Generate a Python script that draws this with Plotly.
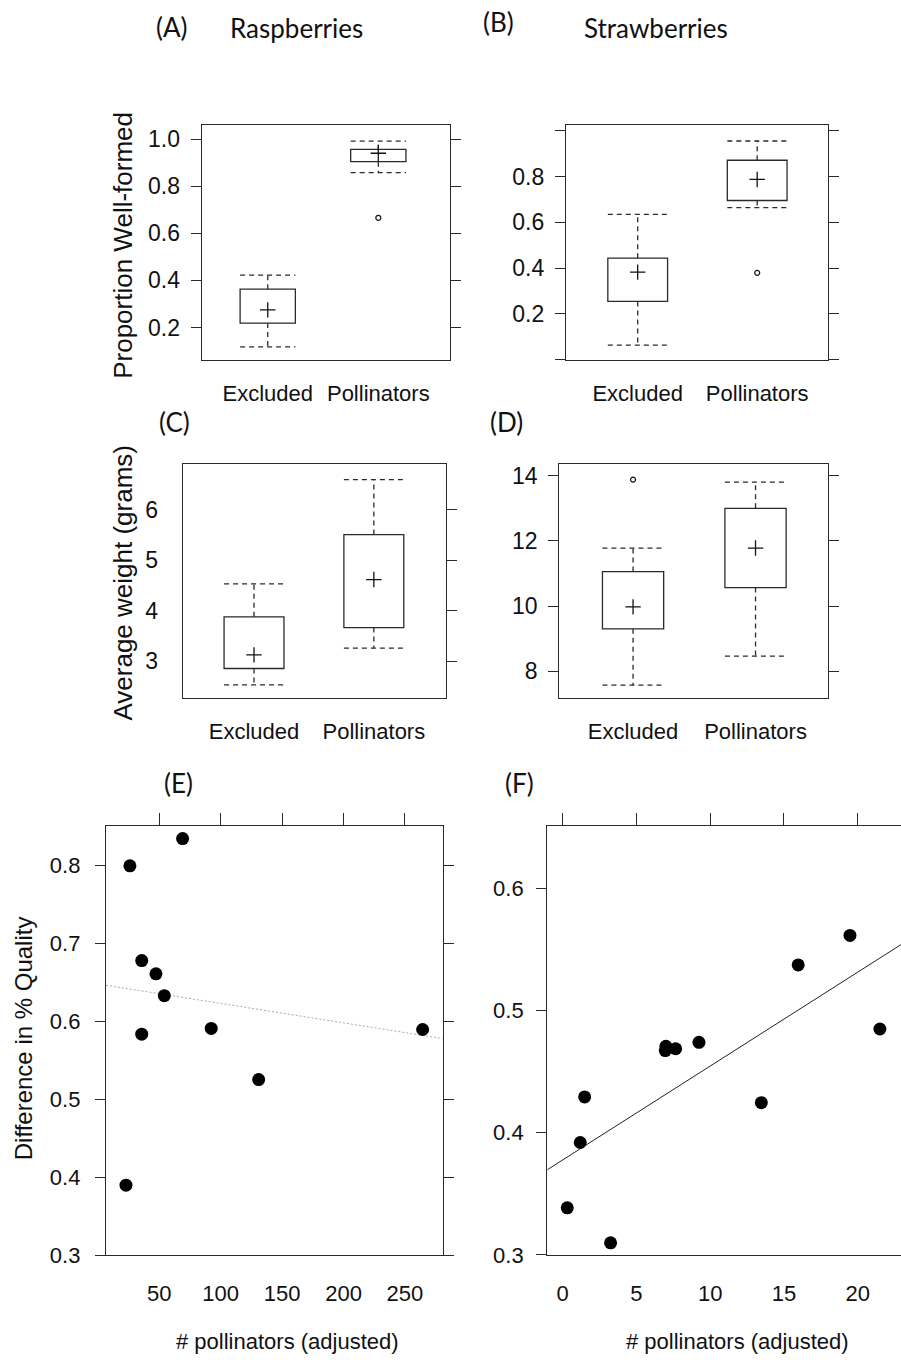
import numpy as np
import plotly.graph_objects as go

# ---------------- data ----------------
categories = ["Excluded", "Pollinators"]

# (A) Raspberries - proportion well-formed
rasp_prop_q1 = [0.219, 0.904]
rasp_prop_q3 = [0.363, 0.956]
rasp_prop_mean = [0.275, 0.940]
rasp_prop_wlo = [0.118, 0.858]
rasp_prop_whi = [0.4225, 0.9915]
rasp_prop_out_cat = ["Pollinators"]
rasp_prop_out_val = [0.666]

# (B) Strawberries - proportion well-formed
straw_prop_q1 = [0.254, 0.695]
straw_prop_q3 = [0.443, 0.871]
straw_prop_mean = [0.382, 0.787]
straw_prop_wlo = [0.063, 0.664]
straw_prop_whi = [0.634, 0.955]
straw_prop_out_cat = ["Pollinators"]
straw_prop_out_val = [0.379]

# (C) Raspberries - average weight (grams)
rasp_wt_q1 = [2.855, 3.666]
rasp_wt_q3 = [3.878, 5.506]
rasp_wt_mean = [3.126, 4.616]
rasp_wt_wlo = [2.533, 3.257]
rasp_wt_whi = [4.53, 6.593]
rasp_wt_out_cat = []
rasp_wt_out_val = []

# (D) Strawberries - average weight (grams)
straw_wt_q1 = [9.30, 10.566]
straw_wt_q3 = [11.056, 13.0]
straw_wt_mean = [9.974, 11.78]
straw_wt_wlo = [7.57, 8.46]
straw_wt_whi = [11.78, 13.8]
straw_wt_out_cat = ["Excluded"]
straw_wt_out_val = [13.88]

# (E) Raspberries - difference in % quality vs # pollinators
rasp_poll_x = [26.1, 69.0, 35.7, 47.3, 54.1, 35.7, 92.3, 130.9, 264.4, 22.9]
rasp_diff_y = [0.799, 0.834, 0.6775, 0.6606, 0.6326, 0.5832, 0.5906, 0.525, 0.5892, 0.3897]

# (F) Strawberries - difference in % quality vs # pollinators
straw_poll_x = [0.31, 1.19, 1.49, 3.25, 6.96, 7.0, 7.66, 9.24, 13.47, 15.97, 19.48, 21.51]
straw_diff_y = [0.3385, 0.392, 0.4293, 0.3099, 0.4672, 0.4707, 0.4687, 0.474, 0.4246,
                0.5373, 0.5615, 0.4849]

# tick values
rasp_prop_ticks = [0.2, 0.4, 0.6, 0.8, 1.0]
straw_prop_ticks = [0.0, 0.2, 0.4, 0.6, 0.8, 1.0]
rasp_wt_ticks = [3, 4, 5, 6]
straw_wt_ticks = [8, 10, 12, 14]
rasp_poll_ticks = [50, 100, 150, 200, 250]
rasp_diff_ticks = [0.3, 0.4, 0.5, 0.6, 0.7, 0.8]
straw_poll_ticks = [0, 5, 10, 15, 20]
straw_diff_ticks = [0.3, 0.4, 0.5, 0.6]

# ---------------- style ----------------
LINE_C = "#2a2a2a"
BOX_W = 0.5
TICK_FONT = dict(family="Liberation Sans, Arial, sans-serif", size=23, color="#111")
TICK_FONT_SM = dict(family="Liberation Sans, Arial, sans-serif", size=22, color="#111")
CAT_FONT = dict(family="Liberation Sans, Arial, sans-serif", size=22, color="#111")
AX_TITLE_FONT = dict(family="Liberation Sans, Arial, sans-serif", size=26, color="#111")
PANEL_FONT = dict(family="Lato, Open Sans, sans-serif", size=26, color="#111")

E_XRANGE = [6.6, 280.7]
F_XRANGE = [-1.044, 22.94]
C_YRANGE = [2.268, 6.904]
E_YRANGE = [0.2995, 0.850]
F_YRANGE = [0.2995, 0.651]

fig = go.Figure()


def add_box_panel(xa, ya, q1, q3, mean, wlo, whi, out_cat, out_val):
    pos = np.arange(1, len(categories) + 1, dtype=float)
    q1 = np.asarray(q1, dtype=float)
    q3 = np.asarray(q3, dtype=float)
    fig.add_trace(go.Bar(
        x=pos, y=q3 - q1, base=q1, width=BOX_W,
        marker=dict(color="white", line=dict(color=LINE_C, width=1.3)),
        xaxis=xa, yaxis=ya, hoverinfo="skip"))
    hw = BOX_W / 2
    wx, wy = [], []
    for p, a, b, lo, hi in zip(pos, q1, q3, wlo, whi):
        wx += [p, p, None, p, p, None, p - hw, p + hw, None, p - hw, p + hw, None]
        wy += [b, hi, None, a, lo, None, hi, hi, None, lo, lo, None]
    fig.add_trace(go.Scatter(
        x=wx, y=wy, mode="lines",
        line=dict(color=LINE_C, width=1.3, dash="5px,4px"),
        xaxis=xa, yaxis=ya, hoverinfo="skip"))
    fig.add_trace(go.Scatter(
        x=pos, y=mean, mode="markers",
        marker=dict(symbol="cross-thin", size=11, line=dict(color="#111", width=1.3)),
        xaxis=xa, yaxis=ya))
    if out_cat:
        ox = [categories.index(c) + 1 for c in out_cat]
        fig.add_trace(go.Scatter(
            x=ox, y=out_val, mode="markers",
            marker=dict(symbol="circle-open", size=5, color="#111", line=dict(width=1.2)),
            xaxis=xa, yaxis=ya))


add_box_panel("x", "y", rasp_prop_q1, rasp_prop_q3, rasp_prop_mean, rasp_prop_wlo,
              rasp_prop_whi, rasp_prop_out_cat, rasp_prop_out_val)
add_box_panel("x2", "y2", straw_prop_q1, straw_prop_q3, straw_prop_mean, straw_prop_wlo,
              straw_prop_whi, straw_prop_out_cat, straw_prop_out_val)
add_box_panel("x3", "y3", rasp_wt_q1, rasp_wt_q3, rasp_wt_mean, rasp_wt_wlo,
              rasp_wt_whi, rasp_wt_out_cat, rasp_wt_out_val)
add_box_panel("x4", "y4", straw_wt_q1, straw_wt_q3, straw_wt_mean, straw_wt_wlo,
              straw_wt_whi, straw_wt_out_cat, straw_wt_out_val)

# (E) scatter + least-squares line
e_coef = np.polyfit(rasp_poll_x, rasp_diff_y, 1)
e_lx = np.array(E_XRANGE)
fig.add_trace(go.Scatter(x=e_lx, y=np.polyval(e_coef, e_lx), mode="lines",
                         line=dict(color="#aaaaaa", width=1, dash="2px,2px"),
                         xaxis="x5", yaxis="y5", hoverinfo="skip"))
fig.add_trace(go.Scatter(x=rasp_poll_x, y=rasp_diff_y, mode="markers",
                         marker=dict(color="black", size=13),
                         xaxis="x5", yaxis="y5"))

# (F) scatter + least-squares line
f_coef = np.polyfit(straw_poll_x, straw_diff_y, 1)
f_lx = np.array(F_XRANGE)
fig.add_trace(go.Scatter(x=f_lx, y=np.polyval(f_coef, f_lx), mode="lines",
                         line=dict(color="#222", width=1),
                         xaxis="x6", yaxis="y6", hoverinfo="skip"))
fig.add_trace(go.Scatter(x=straw_poll_x, y=straw_diff_y, mode="markers",
                         marker=dict(color="black", size=13),
                         xaxis="x6", yaxis="y6"))

# empty traces so the tick-only overlay axes (right of C, top of E and F) get drawn
for xa, ya in [("x3", "y7"), ("x7", "y5"), ("x8", "y6")]:
    fig.add_trace(go.Scatter(x=[], y=[], mode="markers", xaxis=xa, yaxis=ya,
                             hoverinfo="skip"))


def cat_xaxis(domain, rng, anchor):
    return dict(domain=domain, range=rng, anchor=anchor, tickvals=[1, 2], ticktext=categories,
                ticks="", tickangle=0, showline=True, mirror=True, linecolor=LINE_C,
                linewidth=1.3, showgrid=False, zeroline=False, tickfont=CAT_FONT,
                ticklabelstandoff=13, fixedrange=True)


def val_yaxis(domain, rng, anchor, tickvals, ticktext, left_ticks=True, mirror="ticks",
              font=TICK_FONT, standoff=6):
    return dict(domain=domain, range=rng, anchor=anchor, tickvals=tickvals, ticktext=ticktext,
                ticks="outside" if left_ticks else "", ticklen=10, tickwidth=1.3,
                tickcolor=LINE_C, showline=True, mirror=mirror, linecolor=LINE_C,
                linewidth=1.3, showgrid=False, zeroline=False, tickfont=font,
                ticklabelstandoff=standoff, fixedrange=True)


def tick_only(overlay, anchor, side, rng, tickvals, ticklen):
    return dict(overlaying=overlay, anchor=anchor, side=side, range=rng, tickvals=tickvals,
                showticklabels=False, ticks="outside", ticklen=ticklen, tickwidth=1.3,
                tickcolor=LINE_C, showline=False, showgrid=False, zeroline=False,
                fixedrange=True)


def fmt1(vals):
    return [f"{v:.1f}" for v in vals]


straw_prop_text = [f"{v:.1f}" if 0 < v < 1 else "" for v in straw_prop_ticks]

fig.update_layout(
    width=901, height=1372,
    margin=dict(l=0, r=0, t=0, b=0),
    paper_bgcolor="white", plot_bgcolor="white",
    showlegend=False,
    xaxis=cat_xaxis([0.2239, 0.4994], [0.403, 2.648], "y"),
    yaxis=val_yaxis([0.7358, 0.9086], [0.062, 1.059], "x", rasp_prop_ticks, fmt1(rasp_prop_ticks)),
    xaxis2=cat_xaxis([0.6282, 0.9193], [0.40, 2.595], "y2"),
    yaxis2=val_yaxis([0.7358, 0.9086], [-0.002, 1.024], "x2", straw_prop_ticks, straw_prop_text),
    xaxis3=cat_xaxis([0.2028, 0.4947], [0.405, 2.60], "y3"),
    yaxis3=val_yaxis([0.4870, 0.6593], C_YRANGE, "x3", rasp_wt_ticks,
                     [str(v) for v in rasp_wt_ticks], left_ticks=False, mirror=True, standoff=19),
    yaxis7=tick_only("y3", "x3", "right", C_YRANGE, rasp_wt_ticks, 10),
    xaxis4=cat_xaxis([0.6208, 0.9186], [0.398, 2.589], "y4"),
    yaxis4=val_yaxis([0.4870, 0.6593], [7.172, 14.359], "x4", straw_wt_ticks,
                     [str(v) for v in straw_wt_ticks]),
    xaxis5=dict(domain=[0.1176, 0.4913], range=E_XRANGE, anchor="y5", tickvals=rasp_poll_ticks,
                ticks="", showline=True, mirror=True, linecolor=LINE_C, linewidth=1.3,
                showgrid=False, zeroline=False, tickfont=TICK_FONT_SM, ticklabelstandoff=18,
                fixedrange=True),
    xaxis7=tick_only("x5", "y5", "top", E_XRANGE, rasp_poll_ticks, 12),
    yaxis5=val_yaxis([0.0769, 0.3929], E_YRANGE, "x5", rasp_diff_ticks,
                     fmt1(rasp_diff_ticks), font=TICK_FONT_SM, standoff=10),
    xaxis6=dict(domain=[0.6074, 1.0], range=F_XRANGE, anchor="y6", tickvals=straw_poll_ticks,
                ticks="", showline=True, mirror=True, linecolor=LINE_C, linewidth=1.3,
                showgrid=False, zeroline=False, tickfont=TICK_FONT_SM, ticklabelstandoff=18,
                fixedrange=True),
    xaxis8=tick_only("x6", "y6", "top", F_XRANGE, straw_poll_ticks, 12),
    yaxis6=val_yaxis([0.0769, 0.3929], F_YRANGE, "x6", straw_diff_ticks,
                     fmt1(straw_diff_ticks), mirror=False, font=TICK_FONT_SM, standoff=8),
)

W, H = 901.0, 1360.0


def ann(text, px, py, font, angle=0):
    fig.add_annotation(text=text, x=px / W, y=1 - py / H, xref="paper", yref="paper",
                       xanchor="center", yanchor="middle", showarrow=False,
                       textangle=angle, font=font)


ann("(A)", 172, 26, PANEL_FONT)
ann("Raspberries", 296, 27, PANEL_FONT)
ann("(B)", 498, 21, PANEL_FONT)
ann("Strawberries", 656, 27, PANEL_FONT)
ann("(C)", 174, 421, PANEL_FONT)
ann("(D)", 507, 421, PANEL_FONT)
ann("(E)", 178, 783, PANEL_FONT)
ann("(F)", 519, 783, PANEL_FONT)
ann("Proportion Well-formed", 123, 245, AX_TITLE_FONT, -90)
ann("Average weight (grams)", 123, 582, AX_TITLE_FONT, -90)
ann("Difference in % Quality", 23, 1038, dict(AX_TITLE_FONT, size=24), -90)
ann("# pollinators (adjusted)", 287, 1341, dict(AX_TITLE_FONT, size=22))
ann("# pollinators (adjusted)", 737, 1341, dict(AX_TITLE_FONT, size=22))

fig.write_html(
    "out.html",
    config={"displayModeBar": False},
    post_script="document.documentElement.style.margin='0px';"
                "document.body.style.margin='0px';",
)
